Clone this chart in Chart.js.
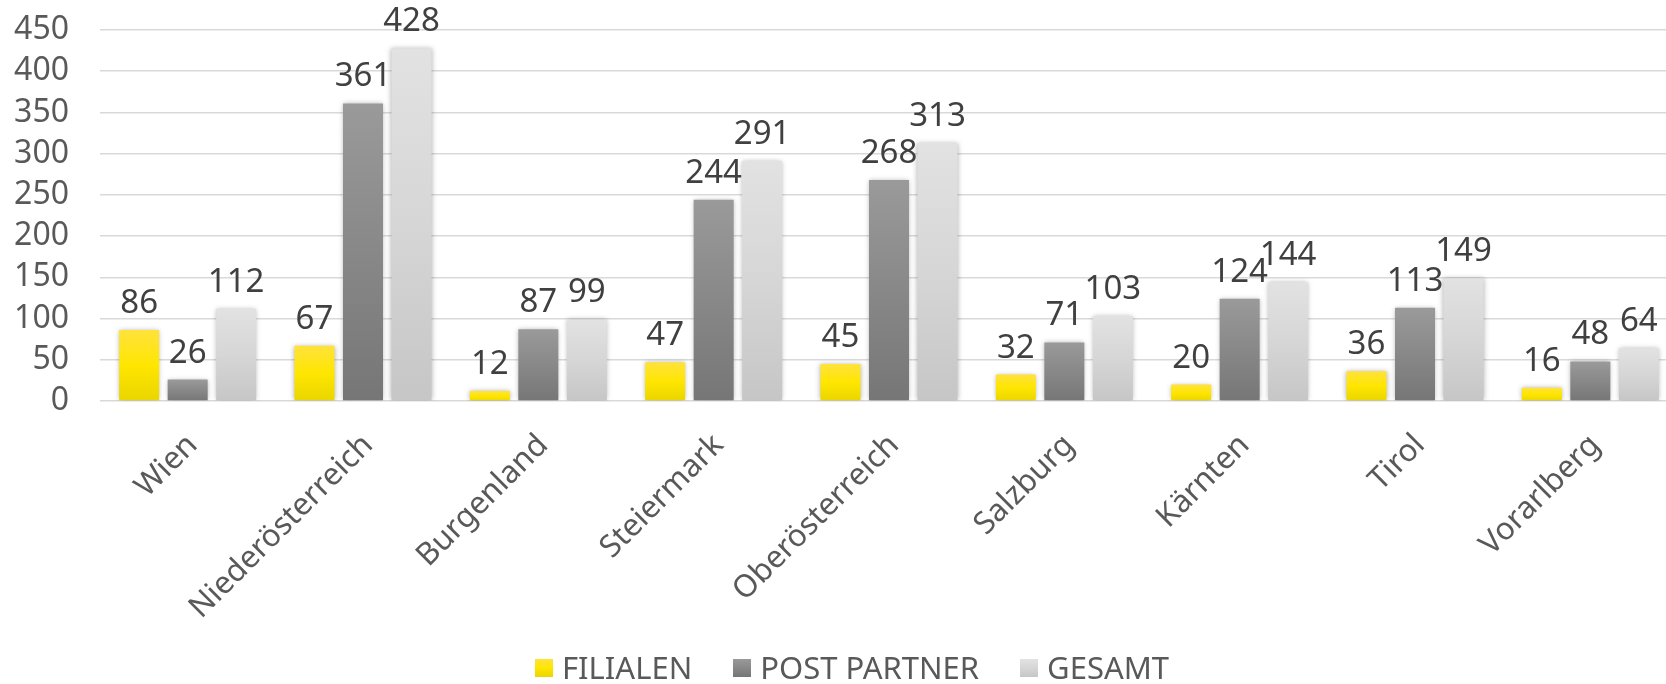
<!DOCTYPE html>
<html>
<head>
<meta charset="utf-8">
<script src="https://cdn.jsdelivr.net/npm/chart.js@4.4.1/dist/chart.umd.min.js"></script>
<style>
  html, body { margin: 0; padding: 0; overflow: hidden; background: #ffffff; width: 1666px; height: 684px; }
  #wrap { position: relative; width: 1680px; height: 684px; }
  #legend { position: absolute; left: 535px; top: 652px; display: flex; align-items: center;
            font-family: 'Noto Sans', sans-serif; font-size: 31px; line-height: 31px; color: #595959; white-space: nowrap; }
  .item { display: flex; align-items: center; margin-right: 41px; }
  .sw { width: 18px; height: 18px; margin-right: 9px; }
</style>
</head>
<body>
<div id="wrap">
  <canvas id="c"></canvas>
  <div id="legend"></div>
</div>
<script>
const categories = ['Wien', 'Niederösterreich', 'Burgenland', 'Steiermark', 'Oberösterreich', 'Salzburg', 'Kärnten', 'Tirol', 'Vorarlberg'];
const seriesNames = ['FILIALEN', 'POST PARTNER', 'GESAMT'];
const filialen = [86, 67, 12, 47, 45, 32, 20, 36, 16];
const postPartner = [26, 361, 87, 244, 268, 71, 124, 113, 48];
const gesamt = [112, 428, 99, 291, 313, 103, 144, 149, 64];
const yTicks = [0, 50, 100, 150, 200, 250, 300, 350, 400, 450];

const gradStops = [
  ['#ffe23c', '#ffe600', '#e9d500'],
  ['#9a9a9a', '#888888', '#767676'],
  ['#e2e2e2', '#d6d6d6', '#c6c6c6']
];

function barGradient(idx) {
  return function(ctx) {
    const chart = ctx.chart;
    const stops = gradStops[idx];
    if (!chart.chartArea || ctx.raw === undefined) return stops[1];
    const ys = chart.scales.y;
    const top = ys.getPixelForValue(ctx.raw);
    const bottom = ys.getPixelForValue(0);
    if (!isFinite(top) || !isFinite(bottom) || bottom - top < 1) return stops[1];
    const g = chart.ctx.createLinearGradient(0, top, 0, bottom);
    g.addColorStop(0, stops[0]);
    g.addColorStop(0.5, stops[1]);
    g.addColorStop(1, stops[2]);
    return g;
  };
}

const barDecor = {
  id: 'barDecor',
  beforeDatasetsDraw(chart) {
    const c = chart.ctx;
    c.save();
    c.shadowColor = 'rgba(0,0,0,0.30)';
    c.shadowBlur = 5;
    c.shadowOffsetX = 0;
    c.shadowOffsetY = 0;
  },
  afterDatasetsDraw(chart) {
    const c = chart.ctx;
    c.restore();
    c.save();
    c.font = "33px 'Noto Sans', sans-serif";
    c.fillStyle = '#404040';
    c.textAlign = 'center';
    c.textBaseline = 'alphabetic';
    chart.data.datasets.forEach((ds, di) => {
      const meta = chart.getDatasetMeta(di);
      meta.data.forEach((bar, i) => {
        c.fillText(String(ds.data[i]), bar.x, bar.y - 17);
      });
    });
    c.restore();
  }
};

const datasets = [filialen, postPartner, gesamt].map((d, i) => ({
  label: seriesNames[i],
  data: d,
  backgroundColor: barGradient(i),
  borderWidth: 0,
  barPercentage: 0.825,
  categoryPercentage: 0.83
}));

Chart.defaults.font.family = "'Noto Sans', sans-serif";

new Chart(document.getElementById('c'), {
  type: 'bar',
  data: { labels: categories, datasets },
  options: {
    responsive: true,
    maintainAspectRatio: false,
    animation: false,
    layout: { padding: { top: 30, right: 2, left: 0, bottom: 0 } },
    plugins: { legend: { display: false }, tooltip: { enabled: false } },
    scales: {
      x: {
        grid: { display: false, drawTicks: false },
        border: { display: false },
        ticks: {
          autoSkip: false, minRotation: 45, maxRotation: 45,
          font: { size: 31 }, color: '#595959', padding: 26, labelOffset: 5
        },
        afterFit(s) { s.height = 283; }
      },
      y: {
        min: 0, max: 450,
        afterBuildTicks(s) { s.ticks = yTicks.map(v => ({ value: v })); },
        grid: { color: '#d9d9d9', lineWidth: 1.5, drawTicks: false },
        border: { display: false },
        ticks: { autoSkip: false, font: { size: 32 }, color: '#595959', padding: 31 },
        afterFit(s) { s.width = 100; s.paddingTop = 0; s.paddingBottom = 0; }
      }
    }
  },
  plugins: [barDecor]
});

const legendEl = document.getElementById('legend');
seriesNames.forEach((name, i) => {
  const item = document.createElement('div');
  item.className = 'item';
  const sw = document.createElement('div');
  sw.className = 'sw';
  sw.style.background = 'linear-gradient(' + gradStops[i][0] + ',' + gradStops[i][1] + ',' + gradStops[i][2] + ')';
  const tx = document.createElement('span');
  tx.textContent = name;
  item.appendChild(sw);
  item.appendChild(tx);
  legendEl.appendChild(item);
});
</script>
</body>
</html>
